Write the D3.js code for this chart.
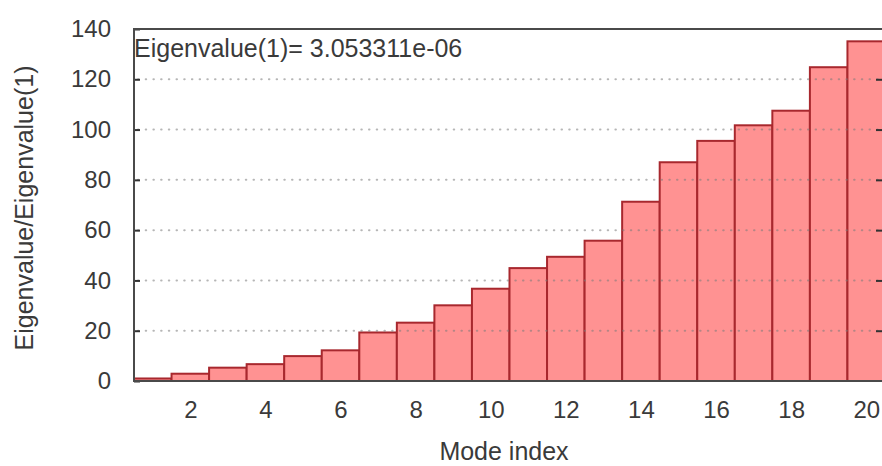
<!DOCTYPE html>
<html lang="en">
<head>
    <meta charset="UTF-8">
    <title>Eigenvalue ratio by mode</title>
    <script src="https://d3js.org/d3.v7.min.js"></script>
    <style>
        body {
            margin: 0;
            background: #fff;
            font-family: "Liberation Sans", Arial, sans-serif;
        }
        svg text { fill: #3a3a3a; }
    </style>
</head>
<body>
    <div id="chart"></div>

    <script>
        // Data
        const modes = d3.range(1, 21);
        const ratios = [1, 2.9, 5.3, 6.7, 9.9, 12.2, 19.3, 23.2, 30.1, 36.7,
                        44.9, 49.4, 55.8, 71.3, 87.0, 95.5, 101.7, 107.5, 124.8, 135.1];
        const xTicks = [2, 4, 6, 8, 10, 12, 14, 16, 18, 20];
        const yTicks = [0, 20, 40, 60, 80, 100, 120, 140];
        const note = 'Eigenvalue(1)= 3.053311e-06';

        const width = 882, height = 466;
        const plot = { left: 134, right: 885, top: 29, bottom: 381 };

        const svg = d3.select('#chart')
            .append('svg')
            .attr('width', width)
            .attr('height', height);

        const x = d3.scaleLinear().domain([0.5, 20.5]).range([plot.left, plot.right]);
        const y = d3.scaleLinear().domain([0, 140]).range([plot.bottom, plot.top]);

        // Bars
        svg.selectAll('.bar')
            .data(ratios)
            .enter()
            .append('rect')
            .attr('class', 'bar')
            .attr('x', (d, i) => x(modes[i] - 0.5))
            .attr('width', (d, i) => x(modes[i] + 0.5) - x(modes[i] - 0.5))
            .attr('y', d => y(d))
            .attr('height', d => y(0) - y(d))
            .attr('fill', '#ff9292')
            .attr('stroke', '#a8282e')
            .attr('stroke-width', 2);

        // Dotted grid drawn in front of the bars
        const inner = yTicks.filter(t => t > 0 && t < 140);
        svg.selectAll('.grid')
            .data(inner)
            .enter()
            .append('line')
            .attr('class', 'grid')
            .attr('x1', plot.left + 4)
            .attr('x2', plot.right)
            .attr('y1', d => y(d))
            .attr('y2', d => y(d))
            .attr('stroke', '#7a7a7a')
            .attr('stroke-opacity', 0.55)
            .attr('stroke-width', 2)
            .attr('stroke-linecap', 'round')
            .attr('stroke-dasharray', '0.5,7.2');

        // Axes
        const yAxis = d3.axisLeft(y).tickValues(yTicks).tickSize(-6).tickPadding(23);
        svg.append('g')
            .attr('transform', `translate(${plot.left},0)`)
            .call(yAxis)
            .call(g => g.select('.domain').remove());

        const yAxisR = d3.axisRight(y).tickValues(inner).tickSize(-6).tickFormat('');
        svg.append('g')
            .attr('transform', `translate(${plot.right - 3},0)`)
            .call(yAxisR)
            .call(g => g.select('.domain').remove());

        const xAxis = d3.axisBottom(x).tickValues(xTicks).tickSize(0).tickPadding(20);
        svg.append('g')
            .attr('transform', `translate(0,${plot.bottom})`)
            .call(xAxis)
            .call(g => g.select('.domain').remove());

        svg.selectAll('.tick text')
            .attr('font-family', '"Liberation Sans", Arial, sans-serif')
            .attr('font-size', 24)
            .attr('fill', '#3a3a3a');
        svg.selectAll('.tick line')
            .attr('stroke', '#333')
            .attr('stroke-width', 2);

        // Frame
        svg.append('rect')
            .attr('x', plot.left)
            .attr('y', plot.top)
            .attr('width', plot.right - plot.left)
            .attr('height', plot.bottom - plot.top)
            .attr('fill', 'none')
            .attr('stroke', '#4a4a4a')
            .attr('stroke-width', 2);

        // Labels
        svg.append('text')
            .attr('x', plot.left)
            .attr('y', 57)
            .attr('font-size', 25)
            .text(note);

        svg.append('text')
            .attr('x', 504)
            .attr('y', 460)
            .attr('text-anchor', 'middle')
            .attr('font-size', 25)
            .text('Mode index');

        svg.append('text')
            .attr('transform', 'translate(33,208) rotate(-90)')
            .attr('text-anchor', 'middle')
            .attr('font-size', 25)
            .text('Eigenvalue/Eigenvalue(1)');
    </script>
</body>
</html>
